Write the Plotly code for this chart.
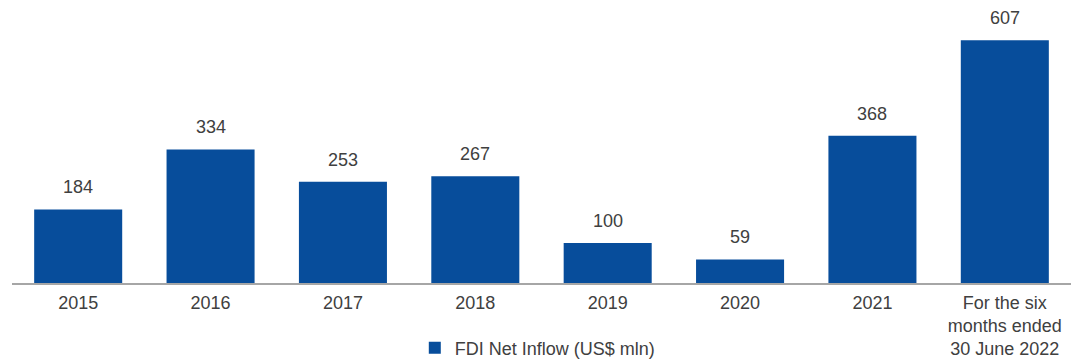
import plotly.graph_objects as go

# FDI net inflow by period (US$ million)
categories = ["2015", "2016", "2017", "2018", "2019", "2020", "2021",
              "For the six<br>months ended<br>30 June 2022"]
values = [184, 334, 253, 267, 100, 59, 368, 607]
series_name = "FDI Net Inflow (US$ mln)"

BAR_COLOR = "#074D9B"
TEXT_COLOR = "#404040"
FONT = "Liberation Sans, Arial, sans-serif"
FONT_SIZE = 18

fig = go.Figure(
    go.Bar(
        x=categories,
        y=values,
        name=series_name,
        marker=dict(color=BAR_COLOR, line=dict(width=0)),
        showlegend=True,
    )
)

# value labels sitting above each bar (x given as category index)
for idx, val in enumerate(values):
    fig.add_annotation(
        x=idx,
        y=val,
        text=str(val),
        showarrow=False,
        xanchor="center",
        yanchor="bottom",
        yshift=10,
        font=dict(size=FONT_SIZE, color=TEXT_COLOR, family=FONT),
    )

fig.update_layout(
    width=1071,
    height=359,
    margin=dict(l=12, r=0, t=23, b=76, autoexpand=False),
    paper_bgcolor="white",
    plot_bgcolor="white",
    bargap=0.335,
    font=dict(family=FONT, size=FONT_SIZE, color=TEXT_COLOR),
    showlegend=True,
    legend=dict(
        orientation="h",
        x=0.4965,
        xanchor="center",
        y=-0.25,
        yanchor="middle",
        font=dict(size=FONT_SIZE, color=TEXT_COLOR, family=FONT),
        bgcolor="rgba(0,0,0,0)",
    ),
)

fig.update_xaxes(
    type="category",
    categoryorder="array",
    categoryarray=categories,
    range=[-0.5, len(categories) - 0.5],
    automargin=False,
    showline=True,
    linecolor="#A6A6A6",
    linewidth=2,
    ticks="",
    ticklabelstandoff=2,
    showgrid=False,
    tickfont=dict(size=FONT_SIZE, color=TEXT_COLOR, family=FONT),
)
fig.update_yaxes(
    range=[0, 650],
    visible=False,
    showgrid=False,
    zeroline=False,
)

fig.write_html("out.html")
